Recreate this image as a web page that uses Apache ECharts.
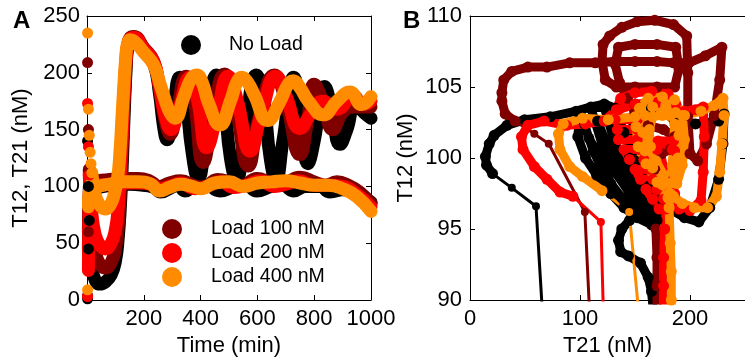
<!DOCTYPE html>
<html>
<head>
<meta charset="utf-8">
<title>Oscillator load response</title>
<script src="https://cdn.jsdelivr.net/npm/echarts/dist/echarts.min.js"></script>
<style>
  html, body { margin: 0; padding: 0; background: #fff; }
  #main { width: 745px; height: 362px; }
</style>
</head>
<body>
<div id="main"></div>
<script>
// ---- Conditions ----
const conditionNames = ['No Load', 'Load 100 nM', 'Load 200 nM', 'Load 400 nM'];
const conditionColors = ['#000000', '#800000', '#ff0000', '#ff8c00'];

// ---- Panel A: time courses, [time (min), concentration (nM)] ----
// T21: first few sparse solver steps, then the dense trajectory
const noLoadT21Head = [[2, 140], [5, 100], [8, 70]];
const noLoadT21 = [[8, 70], [12, 45], [18, 28], [28, 18], [45, 14], [65, 16], [85, 22], [100, 34], [110, 55], [118, 85], [125, 125], [131, 165], [137, 200], [143, 222], [152, 230], [165, 231], [200, 221], [235, 208], [255, 182], [270, 152], [282, 141], [300, 158], [327, 196], [345, 183], [370, 130], [392, 107], [415, 135], [457, 198], [480, 180], [505, 125], [527, 106], [550, 135], [597, 198], [620, 180], [645, 125], [665, 106], [690, 140], [728, 196], [750, 170], [778, 120], [800, 140], [836, 188], [860, 170], [891, 137], [915, 150], [945, 172], [975, 165], [1000, 160]];

const load100T21Head = [[2, 209], [5, 150], [8, 115]];
const load100T21 = [[8, 115], [12, 88], [18, 65], [25, 48], [35, 37], [50, 30], [65, 28], [85, 33], [100, 45], [110, 65], [118, 100], [125, 140], [131, 175], [137, 205], [143, 224], [152, 231], [165, 232], [200, 222], [235, 210], [255, 186], [275, 158], [293, 146], [315, 165], [350, 197], [375, 180], [409, 121], [440, 155], [485, 199], [520, 175], [568, 118], [605, 160], [660, 198], [700, 175], [750, 128], [775, 155], [800, 190], [830, 175], [866, 150], [900, 165], [940, 170], [1000, 170]];

const load200T21Head = [[2, 173], [5, 135], [8, 110]];
const load200T21 = [[8, 110], [12, 90], [18, 74], [25, 62], [35, 53], [50, 47], [65, 45], [85, 50], [100, 62], [110, 82], [118, 115], [125, 150], [131, 185], [137, 210], [143, 225], [152, 230], [165, 231], [200, 221], [235, 210], [255, 188], [275, 162], [296, 150], [320, 165], [363, 196], [390, 175], [421, 134], [455, 160], [497, 197], [530, 175], [574, 131], [615, 165], [665, 197], [700, 180], [750, 151], [790, 165], [830, 175], [880, 168], [937, 180], [970, 172], [1000, 175]];

const load400T21Head = [[2, 235], [5, 168], [8, 145], [11, 130], [14, 120], [17, 112]];
const load400T21 = [[17, 112], [20, 105], [26, 96], [35, 88], [50, 82], [65, 80], [80, 83], [95, 92], [108, 108], [116, 130], [123, 160], [130, 190], [136, 212], [142, 225], [152, 229], [165, 228], [200, 218], [235, 207], [255, 192], [275, 176], [292, 165], [310, 160], [340, 178], [365, 194], [386, 198], [405, 192], [430, 172], [468, 154], [505, 175], [528, 192], [545, 196], [565, 192], [590, 180], [635, 158], [680, 175], [706, 189], [726, 193], [750, 187], [780, 175], [832, 163], [880, 175], [926, 183], [967, 172], [1000, 179]];

// T12: rises from near zero within the first steps, then hovers near 100 nM
const noLoadT12Head = [[2, 1], [5, 45]];
const noLoadT12 = [[5, 45], [8, 88], [15, 96], [30, 98], [60, 100], [100, 101], [150, 102], [200, 101], [235, 99], [260, 95], [290, 98], [320, 101], [345, 96], [380, 100], [420, 101], [468, 96], [520, 100], [560, 101], [598, 96], [650, 100], [690, 101], [726, 96], [770, 100], [820, 100], [856, 95], [900, 97], [940, 95], [970, 91], [1000, 86]];

const load100T12Head = [[2, 4], [5, 60]];
const load100T12 = [[5, 60], [8, 98], [15, 103], [40, 105], [80, 106], [130, 107], [180, 107], [220, 105], [255, 100], [290, 103], [330, 105], [375, 101], [410, 99], [460, 106], [500, 104], [540, 100], [600, 107], [640, 104], [680, 101], [750, 108], [800, 104], [840, 101], [880, 104], [920, 101], [960, 95], [1000, 85]];

const load200T12Head = [[2, 3], [5, 26]];
const load200T12 = [[5, 26], [8, 90], [15, 99], [40, 101], [80, 102], [130, 103], [180, 103], [225, 102], [255, 98], [290, 100], [330, 103], [380, 98], [420, 100], [470, 104], [520, 99], [560, 101], [610, 105], [660, 100], [700, 102], [745, 105], [800, 101], [850, 101], [900, 100], [950, 93], [1000, 82]];

const load400T12Head = [[2, 9], [5, 82]];
const load400T12 = [[5, 82], [8, 95], [15, 98], [40, 100], [80, 102], [130, 104], [180, 104], [225, 102], [255, 96], [290, 99], [330, 102], [370, 100], [400, 98], [450, 103], [500, 104], [550, 100], [600, 103], [650, 104], [700, 105], [750, 103], [800, 101], [850, 101], [900, 98], [950, 91], [1000, 78]];

// ---- Panel B: phase portraits, [T21 (nM), T12 (nM)] ----
const phaseNoLoadStart = [[67.5, 87], [60, 96.6], [38, 97.9], [20.5, 98.9]];
const phaseNoLoad = [[20.5, 98.9], [15, 99.5], [14, 100.1], [17.5, 101], [22, 101.6], [33.6, 102.3], [49.7, 102.7], [73, 102.9], [96.5, 103.3], [110, 103.6], [122, 103.8], [132, 103.5],
  [140, 101.8], [150, 99.8], [162, 98], [175, 97],
  [168, 96], [155, 97.8], [140, 99.5], [130, 101.5], [122, 103.6],
  [110, 103.5], [120, 101], [132, 99], [148, 97.2], [168, 96],
  [160, 95.7], [140, 97], [125, 98.5], [112, 100.5], [100, 103.3],
  [98, 101.5], [105, 100], [115, 98.8], [128, 97.5], [140, 96.5], [152, 95.8], [165, 95.3],
  [158, 96.6], [146, 98], [134, 99.6], [124, 101], [116, 102.6], [104, 102.4], [108, 101.4],
  [120, 99.8], [128, 98.2], [138, 97.2], [150, 96.9], [162, 96.4], [170, 95.6],
  [180, 96.5], [195, 95.8], [208, 95.5], [218, 96.5], [226, 98.5], [230, 101], [231, 103.1], [226, 102.6], [205, 102.4], [185, 102.8], [165, 103.5], [150, 103.8],
  [145, 100], [150, 97], [145, 95.6], [138, 95], [135, 94.2], [137, 93.4], [144, 93.1], [155, 92.6], [162, 91.6], [165, 90.6], [167, 89]];

const phaseLoad100Start = [[110, 87], [104.4, 96.2], [71.6, 101.0], [58.5, 101.7], [41, 102.6]];
const phaseLoad100 = [[41, 102.6], [32, 103.1], [29, 104], [29, 104.6], [30.7, 105.5], [38, 106.1], [52.6, 106.4], [70, 106.4], [90.6, 106.7], [114, 106.7], [131.6, 106.8], [150, 106.8], [170, 106.8], [185, 106.7], [199, 106.7], [214, 107.2], [229, 107.8], [227, 105.5], [222, 103], [215, 101], [207, 99.8], [200, 100.3], [198, 103], [198, 106], [197, 108.6], [185, 109.4], [168, 109.7], [152, 109.6], [138, 109.2], [127, 108.6], [121, 108], [120, 106.8], [123, 105.5], [133, 105], [150, 105], [170, 105], [186, 105], [190, 106.3], [187, 107.8], [170, 108], [150, 108], [135, 107.8], [132, 106.6], [136, 105.3], [143, 104.2], [150, 103.2], [162, 102.3], [176, 102], [186, 101.5], [182, 100.6], [174, 100.3], [168, 99.2], [168, 97.2], [169, 95], [170, 93], [170, 91], [170, 89]];

const phaseLoad200Start = [[122, 87], [119, 95.5], [93.6, 97.3]];
const phaseLoad200 = [[93.6, 97.3], [81.8, 97.6], [70, 98.5], [58.5, 99.4], [48.2, 100.6], [46.8, 101.5], [52.6, 102.3], [67.3, 102.6], [87.7, 102.3], [105, 102.4], [122, 102.6],
  [133, 103.4], [137, 104.2], [150, 104.6], [165, 104.7], [180, 104.5], [187, 103.8], [170, 103.9], [150, 103.8], [135, 103.4],
  [132, 102.7], [152, 102.7], [152, 102.0], [134, 102.0], [135, 101.3], [152, 101.3], [154, 100.6], [140, 100.6],
  [145, 99.9], [158, 99.9], [162, 99.2], [150, 99.2], [155, 98.5], [166, 98.5], [170, 97.8], [160, 97.8],
  [166, 97.1], [176, 97.1], [178, 96.4], [172, 96.4],
  [170, 100.6], [184, 100.6], [185, 101.2], [171, 101.2],
  [178, 98.5], [186, 97.5], [190, 96.4], [200, 96.3], [210, 97], [212, 99], [213, 101.5], [212, 103.6], [205, 103.4], [195, 103.3], [188, 103.3],
  [186, 100.5], [180, 98], [177, 95], [176, 93], [176, 91], [176, 89]];

const phaseLoad400Start = [[156, 87], [144.7, 96.2], [120, 97.7]];
const phaseLoad400 = [[120, 97.7], [102.3, 98.7], [90.6, 99.4], [81.8, 100.6], [80.4, 101.7], [84.8, 102.4], [102.3, 102.8], [125.7, 102.7], [150, 102.9], [175, 103], [195, 103], [210, 103.3], [222, 103.7], [230, 104.2], [231, 103], [229, 101], [227, 99], [224, 97.3], [216, 96.5], [204, 96.5], [193, 96.8], [185, 97.3],
  [180, 97.2], [170, 98.3], [160, 99.6], [153, 100.8], [151, 102.2], [154, 103.5], [162, 104.2], [175, 104.3], [186, 104.1], [193, 103], [195, 101.3], [193, 99.5], [188, 98.2], [182, 97.5],
  [175, 98.1], [166, 99.3], [159, 100.5], [157, 101.8], [159, 103], [166, 103.6], [178, 103.7], [187, 103.2], [190, 101.6], [189, 100], [186, 98.8], [181, 98.2],
  [176, 98.8], [169, 99.8], [164, 100.8], [163, 102], [166, 102.9], [174, 103.1], [182, 103], [186, 102.4],
  [184, 99.5], [181, 97.5], [181, 96.5], [182, 94], [183, 92], [183, 90], [183, 89]];

// ---- Axis tick values ----
const timeTicks = { min: 0, max: 1000, interval: 200 };
const concTicks = { min: 0, max: 250, interval: 50 };
const t21Ticks = { min: 0, max: 250, interval: 100 };
const t12Ticks = { min: 90, max: 110, interval: 5 };

const FONT = "'Liberation Sans', Arial, Helvetica, sans-serif";

const timeCourses = [
  { T21Head: noLoadT21Head, T21: noLoadT21, T12Head: noLoadT12Head, T12: noLoadT12 },
  { T21Head: load100T21Head, T21: load100T21, T12Head: load100T12Head, T12: load100T12 },
  { T21Head: load200T21Head, T21: load200T21, T12Head: load200T12Head, T12: load200T12 },
  { T21Head: load400T21Head, T21: load400T21, T12Head: load400T12Head, T12: load400T12 }
];
const phasePortraits = [
  { start: phaseNoLoadStart, path: phaseNoLoad },
  { start: phaseLoad100Start, path: phaseLoad100 },
  { start: phaseLoad200Start, path: phaseLoad200 },
  { start: phaseLoad400Start, path: phaseLoad400 }
];

function dots(name, color, data, axisIdx, size, clip) {
  return {
    name, type: 'scatter', xAxisIndex: axisIdx, yAxisIndex: axisIdx, data,
    symbol: 'circle', symbolSize: size, itemStyle: { color, opacity: 1 }, clip,
    silent: true, z: 2
  };
}
function trace(name, color, data, axisIdx, width, smooth) {
  return {
    name, type: 'line', xAxisIndex: axisIdx, yAxisIndex: axisIdx, data,
    showSymbol: false, symbol: 'none', smooth,
    lineStyle: { color, width, cap: 'round', join: 'round' },
    itemStyle: { color }, silent: true, z: 2
  };
}

const series = [];
conditionNames.forEach((name, i) => {
  const c = conditionColors[i];
  const tc = timeCourses[i];
  series.push(trace(name, c, tc.T21, 0, 13, 0.5));
  series.push(dots(name, c, tc.T21Head, 0, 11, false));
  series.push(trace(name, c, tc.T12, 0, 13, 0.5));
  series.push(dots(name, c, tc.T12Head, 0, 11, false));
});
conditionNames.forEach((name, i) => {
  const c = conditionColors[i];
  const pp = phasePortraits[i];
  series.push(trace(name, c, pp.start, 2, 3, false));
  series.push(dots(name, c, pp.start, 2, 8, true));
  series.push(trace(name, c, pp.path, 2, 9, false));
  series.push(dots(name, c, pp.path, 2, 11, true));
});

const tickStyle = { show: true, inside: true, length: 5, lineStyle: { color: '#000', width: 1 } };
const lineStyleAx = { show: true, onZero: false, lineStyle: { color: '#000', width: 1 } };
const labelStyle = { color: '#000', fontSize: 22, fontFamily: FONT };
const nameStyle = { color: '#000', fontSize: 22, fontFamily: FONT };

function mainAxis(gridIndex, position, ticks, name, nameGap, labelExtra) {
  return {
    type: 'value', gridIndex, position,
    min: ticks.min, max: ticks.max, interval: ticks.interval,
    axisLine: lineStyleAx, axisTick: tickStyle, splitLine: { show: false },
    axisLabel: Object.assign({ margin: 8 }, labelStyle, labelExtra || {}),
    name, nameLocation: 'middle', nameGap, nameTextStyle: nameStyle
  };
}
function frameAxis(gridIndex, position, ticks) {
  return {
    type: 'value', gridIndex, position,
    min: ticks.min, max: ticks.max, interval: ticks.interval,
    axisLine: lineStyleAx, axisTick: tickStyle, splitLine: { show: false },
    axisLabel: { show: false }
  };
}

const option = {
  animation: false,
  backgroundColor: '#ffffff',
  textStyle: { fontFamily: FONT },
  title: [
    { text: 'A', left: 8, top: 4, textStyle: { fontSize: 24, fontWeight: 'bold', color: '#000', fontFamily: FONT } },
    { text: 'B', left: 398, top: 4, textStyle: { fontSize: 24, fontWeight: 'bold', color: '#000', fontFamily: FONT } }
  ],
  grid: [
    { left: 87, top: 16, right: 374, bottom: 62, containLabel: false },
    { left: 470, top: 16, right: -10, bottom: 62, containLabel: false }
  ],
  xAxis: [
    mainAxis(0, 'bottom', timeTicks, 'Time (min)', 32, { showMinLabel: false, formatter: v => (v === 0 ? '' : String(v)) }),
    frameAxis(0, 'top', timeTicks),
    mainAxis(1, 'bottom', t21Ticks, 'T21 (nM)', 32, { showMaxLabel: false }),
    frameAxis(1, 'top', t21Ticks)
  ],
  yAxis: [
    mainAxis(0, 'left', concTicks, 'T12, T21 (nM)', 55, { margin: 7 }),
    frameAxis(0, 'right', concTicks),
    mainAxis(1, 'left', t12Ticks, 'T12 (nM)', 53, { margin: 8 }),
    frameAxis(1, 'right', t12Ticks)
  ],
  legend: [
    {
      data: [conditionNames[0]], left: 181, top: 35, padding: 0,
      icon: 'circle', itemWidth: 66, itemHeight: 20, selectedMode: false,
      textStyle: { fontSize: 19.5, color: '#000', fontFamily: FONT }
    },
    {
      data: conditionNames.slice(1), left: 162, top: 219, padding: 0, orient: 'vertical',
      icon: 'circle', itemWidth: 68, itemHeight: 20, itemGap: 4, selectedMode: false,
      textStyle: { fontSize: 19.5, color: '#000', fontFamily: FONT }
    }
  ],
  series
};

const chart = echarts.init(document.getElementById('main'), null, { renderer: 'canvas' });
chart.setOption(option);
</script>
</body>
</html>
